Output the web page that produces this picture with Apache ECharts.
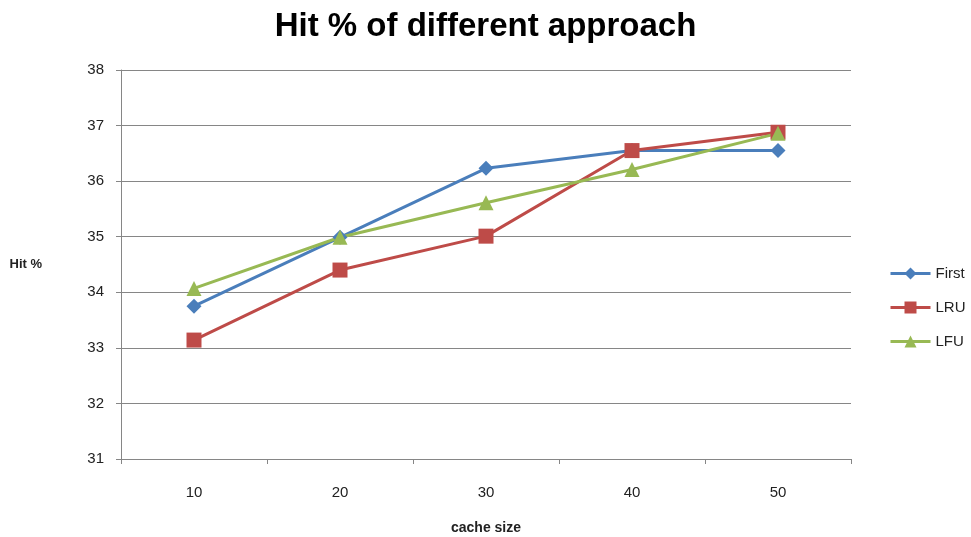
<!DOCTYPE html>
<html>
<head>
<meta charset="utf-8">
<script src="https://cdn.jsdelivr.net/npm/echarts@6/dist/echarts.min.js"></script>
<style>html,body{margin:0;padding:0;background:#fff}#c{width:971px;height:537px}</style>
</head>
<body>
<div id="c"></div>
<script>
var categories = ['10', '20', '30', '40', '50'];
var firstValues = [33.75, 34.99, 36.23, 36.55, 36.55];
var lruValues = [33.14, 34.40, 35.01, 36.55, 36.88];
var lfuValues = [34.07, 34.99, 35.61, 36.21, 36.86];
var seriesNames = ['First', 'LRU', 'LFU'];

var chart = echarts.init(document.getElementById('c'));
var font = 'Liberation Sans';
function mk(name, data, color, symbol, size) {
  return {
    name: name, type: 'line', data: data,
    symbol: symbol, symbolSize: size,
    lineStyle: {color: color, width: 3},
    itemStyle: {color: color},
    animation: false
  };
}
chart.setOption({
  animation: false,
  textStyle: {fontFamily: font},
  title: {
    text: 'Hit % of different approach', left: 'center', top: 5,
    textStyle: {fontFamily: font, fontSize: 33, fontWeight: 'bold', color: '#000'}
  },
  grid: {left: 121, right: 120, top: 70, bottom: 78, containLabel: false, outerBoundsMode: 'none'},
  legend: {
    orient: 'vertical', left: 884, top: 261, itemGap: 19,
    itemWidth: 40, itemHeight: 15,
    data: seriesNames,
    lineStyle: {width: 3},
    textStyle: {fontFamily: font, fontSize: 15, color: '#222'}
  },
  xAxis: {
    type: 'category', data: categories, boundaryGap: true,
    name: 'cache size', nameLocation: 'middle', nameGap: 62,
    nameTextStyle: {fontFamily: font, fontSize: 14, fontWeight: 'bold', color: '#222'},
    axisLine: {lineStyle: {color: '#868686', width: 1}},
    axisTick: {show: true, length: 5, lineStyle: {color: '#868686'}},
    axisLabel: {fontFamily: font, fontSize: 15, color: '#222', margin: 26}
  },
  yAxis: {
    type: 'value', min: 31, max: 38, interval: 1,
    name: 'Hit %', nameLocation: 'middle', nameRotate: 0, nameGap: 79,
    nameTextStyle: {fontFamily: font, fontSize: 13, fontWeight: 'bold', color: '#222'},
    axisLine: {show: true, lineStyle: {color: '#868686', width: 1}},
    axisTick: {show: true, length: 5, lineStyle: {color: '#868686'}},
    axisLabel: {fontFamily: font, fontSize: 15, color: '#222', margin: 17},
    splitLine: {lineStyle: {color: '#868686', width: 1}}
  },
  series: [
    mk('First', firstValues, '#4a7ebb', 'diamond', 15),
    mk('LRU', lruValues, '#be4b48', 'rect', 15),
    mk('LFU', lfuValues, '#98b954', 'triangle', 15)
  ]
});
</script>
</body>
</html>
